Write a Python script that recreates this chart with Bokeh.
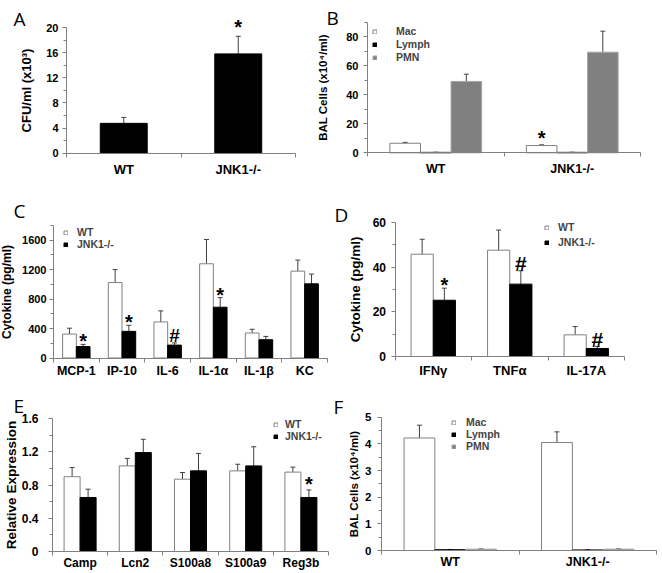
import numpy as np
from bokeh.plotting import figure
from bokeh.models import (ColumnDataSource, FixedTicker, Range1d, Whisker, TeeHead,
                          Label, Legend, LegendItem)
from bokeh.layouts import column, row
from bokeh.embed import file_html
from bokeh.resources import INLINE
from bokeh.core.properties import value

FONT = "Liberation Sans"
LFONT = "Open Sans"
AXIS = "#808080"
ERR = "#404040"

# ---------------- data ----------------
# A
a_groups = ["WT", "JNK1-/-"]
a_cfu = [4.75, 15.8]
a_cfu_err = [0.95, 2.8]
a_marks = ["", "*"]

# B
b_groups = ["WT", "JNK1-/-"]
b_mac = [6.6, 5.0]
b_mac_err = [0.6, 0.5]
b_lymph = [0.3, 0.3]
b_lymph_err = [0.1, 0.1]
b_pmn = [49.3, 69.5]
b_pmn_err = [5.0, 14.5]
b_marks = ["", "*"]

# C
c_cyt = ["MCP-1", "IP-10", "IL-6", "IL-1α", "IL-1β", "KC"]
c_wt = [325, 1025, 490, 1280, 340, 1180]
c_wt_err = [80, 175, 150, 330, 50, 150]
c_ko = [155, 362, 175, 690, 248, 1008]
c_ko_err = [30, 82, 30, 130, 45, 132]
c_marks = ["*", "*", "#", "*", "", ""]

# D
d_cyt = ["IFNγ", "TNFα", "IL-17A"]
d_wt = [45.8, 47.6, 9.7]
d_wt_err = [6.7, 9.0, 3.7]
d_ko = [25.2, 32.4, 3.6]
d_ko_err = [5.4, 6.0, 0.9]
d_marks = ["*", "#", "#"]

# E
e_genes = ["Camp", "Lcn2", "S100a8", "S100a9", "Reg3b"]
e_wt = [0.90, 1.03, 0.87, 0.97, 0.955]
e_wt_err = [0.11, 0.09, 0.08, 0.08, 0.06]
e_ko = [0.65, 1.19, 0.97, 1.03, 0.65]
e_ko_err = [0.10, 0.16, 0.21, 0.23, 0.09]
e_marks = ["", "", "", "", "*"]

# F
f_groups = ["WT", "JNK1-/-"]
f_mac = [4.22, 4.05]
f_mac_err = [0.48, 0.40]
f_lymph = [0.03, 0.02]
f_lymph_err = [0.01, 0.01]
f_pmn = [0.05, 0.05]
f_pmn_err = [0.01, 0.01]

WHITE = dict(fill="white", line="#808080")
BLACK = dict(fill="black", line="black")
GRAY = dict(fill="#808080", line="#a6a6a6")


def panel(fig, box, cats, ymax, yticks, yminor, ylabel, series, bar_w, letter, letter_xy,
          fs, standoffs, legend=None, marks=None, ylabel_over=None):
    fx, fy, w, h = fig
    L, R, T, B = box
    n = len(cats)
    kx = n / (R - L)
    ky = ymax / (B - T)
    xr = Range1d(0.5 - (L - fx) * kx, n + 0.5 + (fx + w - R) * kx)
    yr = Range1d(-(fy + h - B) * ky, ymax + (T - fy) * ky)
    p = figure(width=w, height=h, x_range=xr, y_range=yr, title=None,
               output_backend="svg", toolbar_location=None, min_border=0)
    p.outline_line_color = None
    p.xgrid.visible = False
    p.ygrid.visible = False
    p.background_fill_color = "white"
    p.border_fill_color = "white"

    base = np.arange(1, n + 1)
    k = len(series)
    offs = (np.arange(k) - (k - 1) / 2) * bar_w
    rends = []
    for s, off in zip(series, offs):
        vals = np.array(s["vals"], dtype=float)
        errs = np.array(s["errs"], dtype=float)
        src = ColumnDataSource(dict(x=base + off, top=vals, up=vals + errs))
        r = p.vbar(x="x", top="top", width=bar_w, bottom=0, source=src,
                   fill_color=s["style"]["fill"], line_color=s["style"]["line"], line_width=1)
        rends.append((s.get("label"), r))
        wk = Whisker(source=src, base="x", lower="top", upper="up", dimension="height",
                     line_color=ERR, line_width=1,
                     upper_head=TeeHead(size=5, line_color=ERR, line_width=1), lower_head=None)
        p.add_layout(wk)
        if s.get("marks"):
            xs, ys, ts, fsz = [], [], [], []
            for i, m in enumerate(s["marks"]):
                if not m:
                    continue
                size = marks["star"] if m == "*" else marks["hash"]
                lift = marks["gap"] + 4 - (0.2 * size if m == "*" else 0)
                xs.append(base[i] + off)
                ys.append(vals[i] + errs[i] + lift * ky)
                ts.append(m)
                fsz.append(f"{size}px")
            msrc = ColumnDataSource(dict(x=xs, y=ys, t=ts, fs=fsz))
            p.text(x="x", y="y", text="t", source=msrc, text_font=value(FONT),
                   text_font_style="bold", text_font_size="fs", text_align="center",
                   text_baseline="alphabetic", text_color="black")

    ytick_fs, ylab_fs, xlab_fs = fs
    ytick_so, ylab_so, xlab_so = standoffs
    # y axis
    ya = p.yaxis[0]
    ya.fixed_location = 0.5
    ya.bounds = (0, ymax)
    ya.ticker = FixedTicker(ticks=yticks, minor_ticks=yminor)
    ya.axis_line_color = AXIS
    ya.major_tick_line_color = AXIS
    ya.minor_tick_line_color = AXIS
    ya.major_tick_out = 4
    ya.major_tick_in = 0
    ya.minor_tick_out = 3
    ya.minor_tick_in = 0
    ya.major_label_text_font = FONT
    ya.major_label_text_font_style = "bold"
    ya.major_label_text_font_size = f"{ytick_fs}px"
    ya.major_label_text_color = "black"
    ya.major_label_standoff = ytick_so
    if ylabel_over:
        ya.major_label_overrides = ylabel_over
    ya.axis_label = ylabel
    ya.axis_label_text_font = FONT
    ya.axis_label_text_font_style = "bold"
    ya.axis_label_text_font_size = f"{ylab_fs}px"
    ya.axis_label_text_color = "black"
    ya.axis_label_standoff = ylab_so

    # x axis
    xa = p.xaxis[0]
    xa.fixed_location = 0
    xa.bounds = (0.5, n + 0.5)
    xa.ticker = FixedTicker(ticks=list(base), minor_ticks=list(np.arange(n + 1) + 0.5))
    xa.major_label_overrides = {int(b): c for b, c in zip(base, cats)}
    xa.axis_line_color = AXIS
    xa.major_tick_line_color = None
    xa.major_tick_out = 0
    xa.major_tick_in = 0
    xa.minor_tick_line_color = AXIS
    xa.minor_tick_out = 4
    xa.minor_tick_in = 0
    xa.major_label_text_font = FONT
    xa.major_label_text_font_style = "bold"
    xa.major_label_text_font_size = f"{xlab_fs}px"
    xa.major_label_text_color = "black"
    xa.major_label_standoff = xlab_so

    # panel letter
    lx = 0.5 + (letter_xy[0] - L) * kx
    ly = (B - letter_xy[1]) * ky
    p.add_layout(Label(x=lx, y=ly, text=letter, text_font=LFONT, text_font_size="19px",
                       text_baseline="alphabetic", text_align="left", text_color="black"))

    if legend:
        items = [LegendItem(label=lab, renderers=[r]) for lab, r in rends]
        lg = Legend(items=items, location=legend["loc"], padding=0, margin=0,
                    spacing=legend["spacing"], glyph_width=5, glyph_height=5,
                    label_height=10, label_standoff=legend["standoff"],
                    label_text_font=FONT, label_text_font_style="bold",
                    label_text_font_size="10.5px", background_fill_alpha=0,
                    border_line_alpha=0)
        p.add_layout(lg)
    return p


pA = panel((0, 0, 315, 186), (66, 295, 27, 152.7), a_groups, 20, [0, 4, 8, 12, 16, 20],
           [2, 6, 10, 14, 18], "CFU/ml (x10³)",
           [dict(vals=a_cfu, errs=a_cfu_err, style=BLACK, marks=a_marks)],
           0.41, "A", (13, 18), (11, 13, 13), (4, 9, 5),
           marks=dict(star=20, hash=19, gap=9))

pB = panel((315, 0, 345, 186), (367, 640, 22, 152.3), b_groups, 90, [0, 20, 40, 60, 80],
           [10, 30, 50, 70, 90], "BAL Cells (x10⁴/ml)",
           [dict(vals=b_mac, errs=b_mac_err, style=WHITE, label="Mac", marks=b_marks),
            dict(vals=b_lymph, errs=b_lymph_err, style=BLACK, label="Lymph"),
            dict(vals=b_pmn, errs=b_pmn_err, style=GRAY, label="PMN")],
           0.224, "B", (326, 17), (11, 11.5, 12.5), (5, 14, 5),
           legend=dict(loc=(57, 123), spacing=1, standoff=19),
           marks=dict(star=20, hash=19, gap=7))

pC = panel((0, 186, 331, 197), (53, 327, 225, 357.5), c_cyt, 1800, [0, 400, 800, 1200, 1600],
           [200, 600, 1000, 1400, 1800], "Cytokine (pg/ml)",
           [dict(vals=c_wt, errs=c_wt_err, style=WHITE, label="WT"),
            dict(vals=c_ko, errs=c_ko_err, style=BLACK, label="JNK1-/-", marks=c_marks)],
           0.30, "C", (13, 210), (11, 12, 12.5), (3, 5, 2),
           legend=dict(loc=(63, 133), spacing=0, standoff=9),
           marks=dict(star=20, hash=19, gap=3))

pD = panel((331, 186, 329, 197), (394.5, 624, 222, 356), d_cyt, 60, [0, 20, 40, 60],
           [10, 30, 50], "Cytokine (pg/ml)",
           [dict(vals=d_wt, errs=d_wt_err, style=WHITE, label="WT"),
            dict(vals=d_ko, errs=d_ko_err, style=BLACK, label="JNK1-/-", marks=d_marks)],
           0.29, "D", (334, 214.5), (12, 13.5, 13), (5, 7, 2),
           legend=dict(loc=(213, 135), spacing=3, standoff=9),
           marks=dict(star=20, hash=21, gap=3))

pE = panel((0, 383, 331, 189), (52, 328, 418, 551), e_genes, 1.6, [0, 0.4, 0.8, 1.2, 1.6],
           [0.2, 0.6, 1.0, 1.4], "Relative Expression",
           [dict(vals=e_wt, errs=e_wt_err, style=WHITE, label="WT"),
            dict(vals=e_ko, errs=e_ko_err, style=BLACK, label="JNK1-/-", marks=e_marks)],
           0.29, "E", (13, 405), (12, 13.5, 12), (10, 0, 0),
           legend=dict(loc=(273, 130), spacing=0, standoff=7),
           marks=dict(star=20, hash=19, gap=6), ylabel_over={0: "0"})

pF = panel((331, 383, 329, 189), (381, 656, 416.7, 550), f_groups, 5, [0, 1, 2, 3, 4, 5],
           [0.5, 1.5, 2.5, 3.5, 4.5], "BAL Cells (x10⁴/ml)",
           [dict(vals=f_mac, errs=f_mac_err, style=WHITE, label="Mac"),
            dict(vals=f_lymph, errs=f_lymph_err, style=BLACK, label="Lymph"),
            dict(vals=f_pmn, errs=f_pmn_err, style=GRAY, label="PMN")],
           0.224, "F", (333, 406), (11.5, 11.5, 12.5), (6, 2, 0),
           legend=dict(loc=(120, 120), spacing=0, standoff=10),
           marks=dict(star=20, hash=19, gap=6))

layout = column(row(pA, pB), row(pC, pD), row(pE, pF))
open("out.html", "w").write(file_html(layout, INLINE))
